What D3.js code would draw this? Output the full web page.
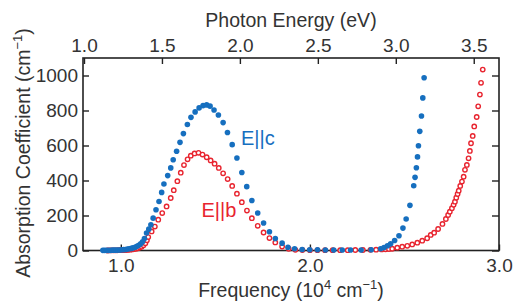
<!DOCTYPE html>
<html>
<head>
<meta charset="utf-8">
<script src="https://d3js.org/d3.v7.min.js"></script>
<style>
  body { margin: 0; background: #fff; }
  text { font-family: "Liberation Sans", Arial, sans-serif; fill: #333; }
</style>
</head>
<body>
<div id="chart"></div>
<script>
// data (frequency in 10^4 cm^-1, absorption in cm^-1)
var blueFreq = [0.905,0.915,0.925,0.935,0.945,0.955,0.965,0.975,0.985,0.995,1.005,1.015,1.025,1.035,1.045,1.055,1.065,1.075,1.085,1.095,1.105,1.115,1.125,
  1.136,1.148,1.159,1.171,1.186,1.202,1.216,1.228,1.248,1.264,1.277,1.295,1.313,1.331,1.352,1.371,1.393,1.414,1.435,1.454,1.472,1.493,1.516,1.541,1.564,1.589,1.614,1.640,1.666,
  1.693,1.724,1.755,1.786,1.817,1.853,1.884,1.919,1.959,1.999,2.040,2.082,2.126,2.171,2.215,2.271,2.324,2.374,2.392,2.410,2.427,2.448,2.471,2.492,2.509,2.529,2.549,2.556,2.563,2.569,2.574,2.581,2.590,2.597,2.604];
var blueAbs = [1,1,1,1,1,2,2,2,3,3,4,5,6,8,10,12,15,19,24,30,38,50,68,
  100,122,147,185,233,280,332,380,428,472,519,567,618,668,720,761,792,815,828,832,825,803,774,731,674,605,529,446,365,
  286,214,157,107,69,42,19,10,6,4,4,3,3,3,3,3,4,10,17,27,38,57,84,128,180,258,370,418,473,535,599,681,769,872,987];

var redFreq = [0.93,0.94,0.95,0.96,0.97,0.98,0.99,1.0,1.01,1.02,1.03,1.04,1.05,1.06,1.07,1.08,1.09,1.1,1.11,1.12,1.13,1.138,
  1.145,1.163,1.180,1.198,1.219,1.242,1.264,1.280,1.299,1.317,1.334,1.353,1.370,1.390,1.411,1.432,1.454,1.475,1.496,1.518,1.541,1.565,1.589,1.614,1.640,1.667,1.693,1.724,1.755,1.786,1.817,1.853,1.888,1.923,
  1.96,2.00,2.04,2.08,2.12,2.16,2.20,2.24,2.28,2.32,2.35,2.38,2.40,2.418,
  2.435,2.462,2.488,2.515,2.541,2.568,2.594,2.620,2.639,2.657,2.678,2.701,2.719,2.731,2.740,2.751,2.760,2.767,2.774,2.781,2.787,2.795,2.804,2.813,2.820,2.830,2.839,2.846,2.852,2.861,2.869,2.882,2.890,2.899,2.905,2.914];
var redAbs = [0,1,1,1,1,1,2,2,2,3,3,4,5,6,8,10,13,17,22,30,42,58,
  77,109,137,176,214,252,300,345,396,445,488,521,542,555,558,548,533,515,496,472,441,408,369,325,276,228,185,141,103,71,46,23,10,4,
  3,2,2,2,2,2,2,3,3,4,5,6,7,8,
  10,16,22,27,35,45,56,70,89,102,123,152,180,203,222,242,261,279,302,323,342,369,394,422,461,489,527,569,613,655,709,763,824,891,958,1034];

var freqTicks = [1.0, 2.0, 3.0];
var energyTicks = [1.0, 1.5, 2.0, 2.5, 3.0, 3.5];
var absTicks = [0, 200, 400, 600, 800, 1000];

var blueColor = "#166fbf",
    redColor = "#e8242f";

// frame of the plot inside the 514x306 window
var margin = {top: 58, right: 15, bottom: 55.5, left: 83},
    width = 514 - margin.left - margin.right,
    height = 306 - margin.top - margin.bottom;

var svg = d3.select("#chart")
  .append("svg")
    .attr("width", 514)
    .attr("height", 306)
  .append("g")
    .attr("transform", "translate(" + margin.left + "," + margin.top + ")");

var x = d3.scaleLinear().domain([0.8, 3.0]).range([0, width]);
var xTop = d3.scaleLinear().domain([0.9936, 3.662]).range([0, width]);
var y = d3.scaleLinear().domain([0, 1100]).range([height, 0]);

// axes, ticks pointing inward
var gx = svg.append("g")
    .attr("transform", "translate(0," + height + ")")
    .call(d3.axisBottom(x).tickValues(freqTicks).tickFormat(d3.format(".1f")).tickSize(-6).tickSizeOuter(0).tickPadding(8));
var gxt = svg.append("g")
    .call(d3.axisTop(xTop).tickValues(energyTicks).tickFormat(d3.format(".1f")).tickSize(-6).tickSizeOuter(0).tickPadding(6));
var gy = svg.append("g")
    .call(d3.axisLeft(y).tickValues(absTicks).tickFormat(d3.format("d")).tickSize(-6).tickSizeOuter(0).tickPadding(5));
var gyr = svg.append("g")
    .attr("transform", "translate(" + width + ",0)")
    .call(d3.axisRight(y).tickValues(absTicks).tickFormat("").tickSize(-7).tickSizeOuter(0));

[gx, gxt, gy, gyr].forEach(function(g) {
  g.select(".domain").remove();
  g.selectAll(".tick line").attr("stroke", "#222").attr("stroke-width", 1.4);
  g.selectAll(".tick text").style("font-size", "19px").attr("fill", "#333");
});

// box around the plot
svg.append("rect")
    .attr("width", width)
    .attr("height", height)
    .attr("fill", "none")
    .attr("stroke", "#222")
    .attr("stroke-width", 1.6);

// E||b series: open red circles
svg.selectAll("circle.red")
    .data(redFreq)
    .enter()
    .append("circle")
      .attr("class", "red")
      .attr("cx", function(d) { return x(d); })
      .attr("cy", function(d, i) { return y(redAbs[i]); })
      .attr("r", 2.2)
      .style("fill", "#fff")
      .style("stroke", redColor)
      .style("stroke-width", 1.4);

// E||c series: filled blue dots
svg.selectAll("circle.blue")
    .data(blueFreq)
    .enter()
    .append("circle")
      .attr("class", "blue")
      .attr("cx", function(d) { return x(d); })
      .attr("cy", function(d, i) { return y(blueAbs[i]); })
      .attr("r", 2.8)
      .style("fill", blueColor);

// series labels
svg.append("text").attr("x", 158).attr("y", 87).text("E||c")
    .style("font-size", "20px").style("fill", blueColor);
svg.append("text").attr("x", 118.5).attr("y", 159).text("E||b")
    .style("font-size", "20px").style("fill", redColor);

// axis titles
svg.append("text")
    .attr("x", 291 - margin.left)
    .attr("y", 27 - margin.top)
    .style("text-anchor", "middle")
    .style("font-size", "19.5px")
    .text("Photon Energy (eV)");

var bt = svg.append("text")
    .attr("x", 291 - margin.left)
    .attr("y", 297 - margin.top)
    .style("text-anchor", "middle")
    .style("font-size", "19.5px");
bt.append("tspan").text("Frequency (10");
bt.append("tspan").attr("dy", -8).style("font-size", "13px").text("4");
bt.append("tspan").attr("dy", 8).text(" cm");
bt.append("tspan").attr("dy", -8).style("font-size", "13px").text("\u22121");
bt.append("tspan").attr("dy", 8).text(")");

var lt = svg.append("text")
    .attr("transform", "translate(" + (30 - margin.left) + "," + (153 - margin.top) + ") rotate(-90)")
    .style("text-anchor", "middle")
    .style("font-size", "19.5px");
lt.append("tspan").text("Absorption Coefficient (cm");
lt.append("tspan").attr("dy", -8).style("font-size", "13px").text("\u22121");
lt.append("tspan").attr("dy", 8).text(")");
</script>
</body>
</html>
